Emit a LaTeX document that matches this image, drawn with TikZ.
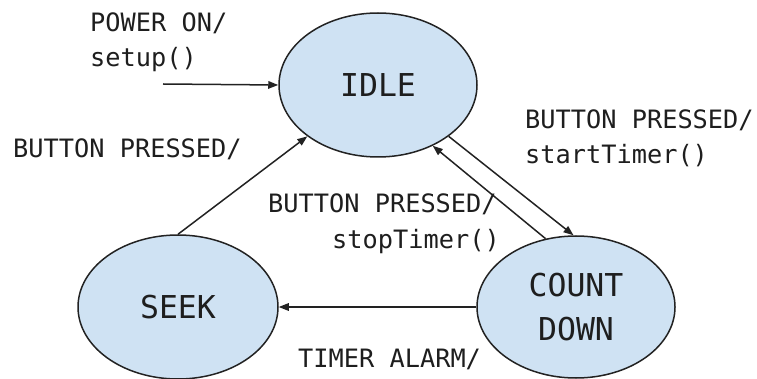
\documentclass[tikz,border=0pt]{standalone}
\usepackage{fontspec}
\newfontfamily\monofam{DejaVu Sans Mono}
\usetikzlibrary{shapes.geometric,arrows.meta}

\definecolor{statefill}{HTML}{CFE2F3}
\definecolor{inkline}{HTML}{222222}
\definecolor{inktext}{HTML}{1E1E1E}

\begin{document}
\begin{tikzpicture}[x=1pt,y=-1pt,
  state/.style={ellipse, draw=inkline, fill=statefill, line width=1.5pt,
    inner sep=0pt, text=inktext, align=center,
    font=\monofam\fontsize{31.5}{44}\selectfont},
  trans/.style={draw=inkline, line width=1.5pt,
    -{Triangle[length=10pt,width=7.5pt]}},
  lbl/.style={inner sep=0pt, text=inktext,
    font=\monofam\fontsize{25.3}{35}\selectfont}
]
\useasboundingbox (0,0) rectangle (757,379);

% states
\node[state, minimum width=198pt, minimum height=144pt] (idle)  at (378,85)  {IDLE};
\node[state, minimum width=200pt, minimum height=144pt] (seek)  at (178,307) {SEEK};
\node[state, minimum width=198pt, minimum height=142pt] (count) at (576,307) {COUNT\\DOWN};

% initial transition
\coordinate (start) at (163,84);
\draw[trans] (start) -- (idle.west);

% transitions between states
\draw[trans] (seek.north) -- (idle.216);
\draw[trans] (idle.324.5) -- (count.92);
\draw[trans] (count.114) -- (idle.312.6);
\draw[trans] (count.west) -- (seek.east);

% transition labels
\node[lbl, anchor=base west] (pwr1) at (90,32)  {POWER ON/};
\node[lbl, anchor=base west] (pwr2) at (90,67)  {setup()};
\node[lbl, anchor=base west] (bp1)  at (13,158) {BUTTON PRESSED/};
\node[lbl, anchor=base west] (bp2)  at (525,129) {BUTTON PRESSED/};
\node[lbl, anchor=base west] (st)   at (525,164) {startTimer()};
\node[lbl, anchor=base west] (bp3)  at (268,213) {BUTTON PRESSED/};
\node[lbl, anchor=base west] (sp)   at (332,248) {stopTimer()};
\node[lbl, anchor=base west] (ta)   at (298,367) {TIMER ALARM/};
\end{tikzpicture}
\end{document}
